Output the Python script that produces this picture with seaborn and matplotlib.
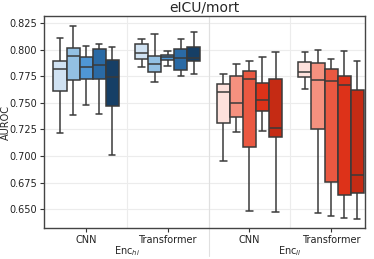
import numpy as np
import pandas as pd
import seaborn as sns
import matplotlib.pyplot as plt
from matplotlib.lines import Line2D

# box stats per model: [low whisker, q1, median, q3, high whisker]
cnn_hi = [[0.7219, 0.7615, 0.7822, 0.7890, 0.8109],
          [0.7387, 0.7716, 0.7937, 0.8021, 0.8228],
          [0.7481, 0.7721, 0.7837, 0.7928, 0.8037],
          [0.7393, 0.7725, 0.7853, 0.8012, 0.8053],
          [0.7009, 0.7475, 0.7744, 0.7906, 0.8031]]
trf_hi = [[0.7837, 0.7915, 0.7974, 0.8056, 0.8103],
          [0.7693, 0.7787, 0.7862, 0.7943, 0.8153],
          [0.7843, 0.7906, 0.7928, 0.7950, 0.7993],
          [0.7750, 0.7809, 0.7925, 0.8003, 0.8103],
          [0.7775, 0.7894, 0.7925, 0.8028, 0.8171]]
cnn_ll = [[0.6956, 0.7315, 0.7600, 0.7681, 0.7772],
          [0.7228, 0.7372, 0.7496, 0.7750, 0.7868],
          [0.6481, 0.7087, 0.7728, 0.7800, 0.7897],
          [0.7237, 0.7428, 0.7528, 0.7690, 0.7934],
          [0.6472, 0.7181, 0.7262, 0.7725, 0.7981]]
trf_ll = [[0.7628, 0.7744, 0.7793, 0.7887, 0.7984],
          [0.6465, 0.7256, 0.7718, 0.7875, 0.8000],
          [0.6434, 0.6756, 0.7703, 0.7815, 0.7909],
          [0.6418, 0.6631, 0.7665, 0.7753, 0.7990],
          [0.6412, 0.6656, 0.6819, 0.7625, 0.7899]]

groups = ["CNN_hi", "Transformer_hi", "CNN_ll", "Transformer_ll"]
tick_labels = ["CNN", "Transformer", "CNN", "Transformer"]
models = ["m1", "m2", "m3", "m4", "m5"]
blues = ["#d0e2f2", "#93c0e3", "#4f97d6", "#2a6aa5", "#163f66"]
reds = ["#fde1dc", "#f5917f", "#ea5841", "#dd3219", "#c52b14"]

rows = []
for g, stats in zip(groups, [cnn_hi, trf_hi, cnn_ll, trf_ll]):
    for m, vals in zip(models, stats):
        for v in vals:
            rows.append({"group": g, "model": m, "auroc": v})
df = pd.DataFrame(rows)

sns.set_theme(style="whitegrid")
plt.rcParams['font.family'] = ['DejaVu Sans']

fig = plt.figure(figsize=(3.74, 2.59), dpi=100)
ax = fig.add_axes([0.118, 0.1185, 0.858, 0.8205])

for enc, pal in [("hi", blues), ("ll", reds)]:
    sub = df[df["group"].str.endswith(enc)]
    sns.boxplot(data=sub, x="group", y="auroc", hue="model", order=groups,
                hue_order=models, palette=pal, saturation=1, whis=(0, 100),
                width=0.8, linecolor="#3a3a3a", linewidth=1.1, legend=False, ax=ax)

ax.set_xlim(-0.514, 3.416)
ax.set_ylim(0.632, 0.832)
ax.set_yticks(np.arange(0.65, 0.826, 0.025))
ax.yaxis.set_major_formatter(plt.FormatStrFormatter("%.3f"))
ax.set_xticks(range(4))
ax.set_xticklabels(tick_labels)
ax.set_xticks([0.5, 1.5, 2.5], minor=True)
ax.grid(True, axis="y", color="#ececec", linewidth=0.8)
ax.grid(False, axis="x", which="major")
ax.grid(True, axis="x", which="minor", color="#ececec", linewidth=0.8)
ax.tick_params(axis="both", which="major", labelsize=7, length=3, width=0.8,
               color="#333333", labelcolor="#222222", pad=2, left=True, bottom=True)
ax.tick_params(axis="x", which="minor", length=0)
for s in ax.spines.values():
    s.set_color("#444444")
    s.set_linewidth(1.0)

ax.set_xlabel("")
ax.set_ylabel("AUROC", fontsize=7)
ax.yaxis.set_label_coords(-0.104, 0.5)
ax.set_title("eICU/mort", fontsize=10, pad=3)

# group labels and separator
ax.text(0.5, -0.075, "Enc$_{hi}$", transform=ax.get_xaxis_transform(),
        ha="center", va="top", fontsize=7)
ax.text(2.5, -0.075, "Enc$_{ll}$", transform=ax.get_xaxis_transform(),
        ha="center", va="top", fontsize=7)
sep = Line2D([1.5, 1.5], [1.0, -0.13], transform=ax.get_xaxis_transform(),
             color="#e0e0e0", linewidth=0.8, clip_on=False)
ax.add_line(sep)

fig.savefig("out.png", dpi=100)
